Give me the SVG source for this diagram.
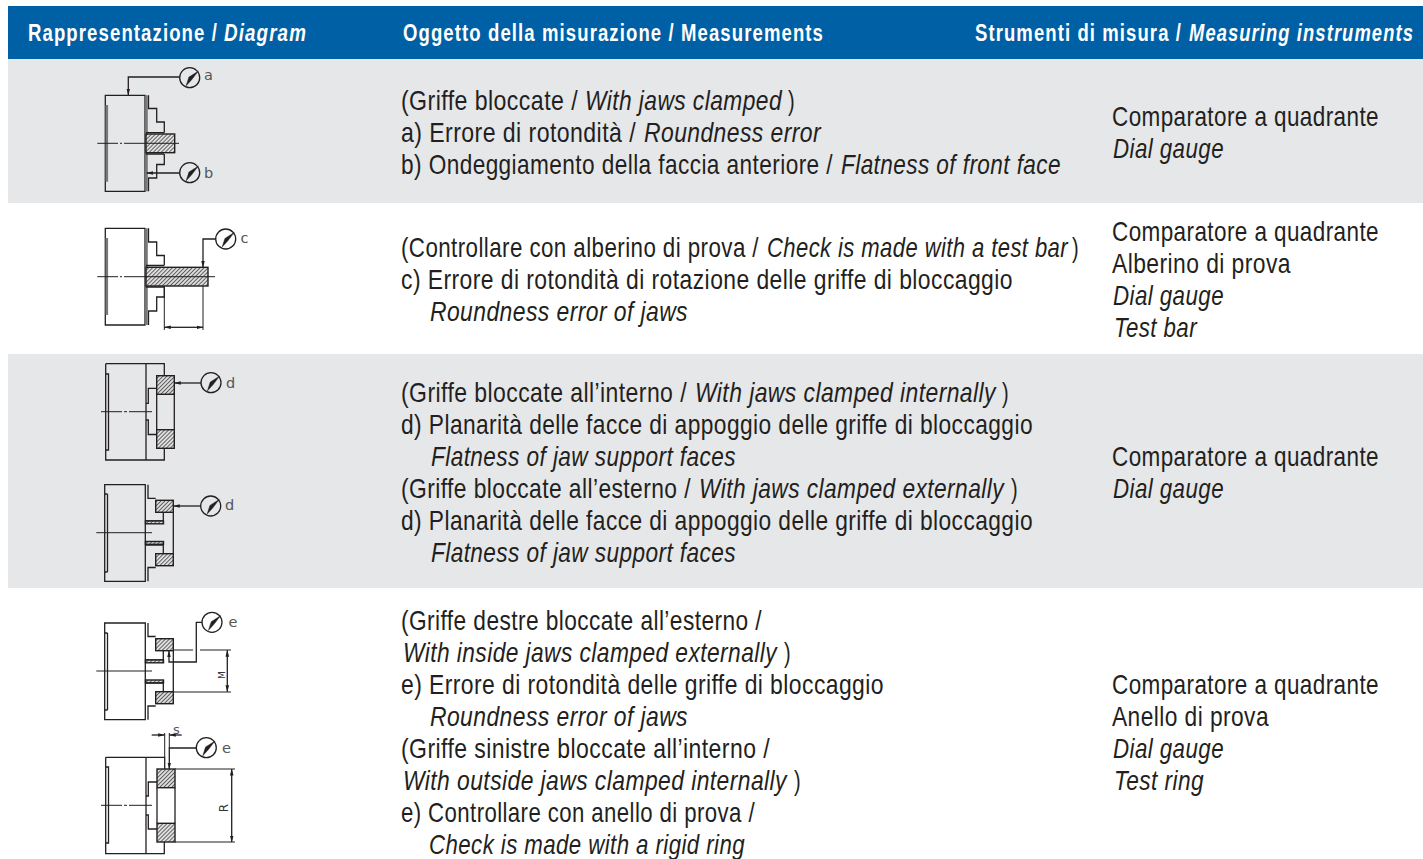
<svg xmlns="http://www.w3.org/2000/svg" width="1423" height="859" viewBox="0 0 1423 859">
<style>
.h{font:bold 18.5px "Liberation Sans",Arial,sans-serif;fill:#fff;letter-spacing:1.1px}
.t{font:21.6px "Liberation Sans",Arial,sans-serif;fill:#231f20;letter-spacing:.4px}
.i{font-style:italic}
.d{fill:none;stroke:#231f20;stroke-width:1.3}
.g{fill:none;stroke:#77797c;stroke-width:2.6}
.c{fill:none;stroke:#231f20;stroke-width:1}
.x{fill:url(#hatch);stroke:#231f20;stroke-width:1.4}
.l{font:14.5px "DejaVu Sans",sans-serif;fill:#555}
.m{font:10px "DejaVu Sans",sans-serif;fill:#333}
</style>
<defs>
<pattern id="hatch" width="2.8" height="2.8" patternUnits="userSpaceOnUse" patternTransform="rotate(45)"><rect width="2.8" height="2.8" fill="#dedede"/><line x1="0" y1="0" x2="0" y2="2.8" stroke="#222" stroke-width="1.3"/></pattern>
<marker id="a" markerWidth="7" markerHeight="5" refX="6.5" refY="2.5" orient="auto" markerUnits="userSpaceOnUse"><path d="M0 0.7L7 2.5L0 4.3Z" fill="#231f20"/></marker>
<g id="dial"><circle r="10" fill="none" stroke="#231f20" stroke-width="1.3"/><path d="M-3.7 8.3L2.2 1.8L8.7 -6.7L-.8 -.6Z" fill="#231f20" stroke="#231f20" stroke-width=".4"/></g>
</defs>
<rect id="band1" x="8" y="59" width="1415" height="144" fill="#e6e7e9"/>
<rect id="band3" x="8" y="354" width="1415" height="234" fill="#e6e7e9"/>
<rect id="header" x="8" y="6" width="1415" height="53" fill="#0060a5"/>
<g id="headers" transform="scale(1 1.3)">
<text class="h" x="28" y="31.54" textLength="190" lengthAdjust="spacingAndGlyphs">Rappresentazione /</text>
<text class="h i" x="224" y="31.54" textLength="83" lengthAdjust="spacingAndGlyphs">Diagram</text>
<text class="h" x="403" y="31.54" textLength="421" lengthAdjust="spacingAndGlyphs">Oggetto della misurazione / Measurements</text>
<text class="h" x="975" y="31.54" textLength="207" lengthAdjust="spacingAndGlyphs">Strumenti di misura /</text>
<text class="h i" x="1189" y="31.54" textLength="225" lengthAdjust="spacingAndGlyphs">Measuring instruments</text>
</g>
<g id="diagram-a">
<path class="d" d="M105.3 95.3H145V191.3H105.3ZM148.5 95.3V108.5H156.7V122H164.3V132.7M148.5 191.3V178H156.7V164.5H164.3V154"/>
<path class="g" d="M146.5 95.3V191.3M106.8 105V181.7"/>
<rect class="x" x="146" y="134" width="28.7" height="18.7"/>
<path class="d" d="M146 132.7H164M146 154H164"/>
<path class="c" d="M97.3 143.3H118M120 143.3H122M124 143.3H179"/>
<path class="d" d="M179.7 77H128.3V95" marker-end="url(#a)"/>
<path class="d" d="M179.7 173H146.7" marker-end="url(#a)"/>
<use href="#dial" x="189.7" y="77.7"/><use href="#dial" x="189.7" y="172.7"/>
<text class="l" x="204" y="80">a</text><text class="l" x="204" y="178">b</text>
</g>
<g id="diagram-c">
<path class="d" d="M105.3 228.3H145V325H105.3ZM148.5 228.3V242H156.7V255.5H164.3V265.5M148.5 325V311H156.7V297H164.3V287"/>
<path class="g" d="M146.5 228.3V325M106.8 238V315"/>
<rect class="x" x="146" y="267.3" width="62" height="18.7"/>
<path class="d" d="M146 265.5H164M146 287H164"/>
<path class="c" d="M97.3 276.7H118M120 276.7H122M124 276.7H215"/>
<path class="d" d="M215.7 239H203V267.3" marker-end="url(#a)"/>
<path class="c" d="M164.3 286V330M203 286V330"/>
<path class="d" d="M184 327.3H164.3" marker-end="url(#a)"/><path class="d" d="M184 327.3H203" marker-end="url(#a)"/>
<use href="#dial" x="225.7" y="239"/>
<text class="l" x="240.5" y="243">c</text>
</g>
<g id="diagram-d1">
<path class="d" d="M105.7 363.7H164.3V375.7M105.7 363.7V460H164.3V448.3M146 363.7V460M105.7 374H108.5V450H105.7"/>
<path class="d" d="M146 403.3H148.3V388.3H156.7M146 420H148.3V434.5H156.7M156.7 394.3V429.7M174.3 394.3V429.7"/>
<rect class="x" x="156.7" y="375.7" width="17.6" height="18.6"/>
<rect class="x" x="156.7" y="429.7" width="17.6" height="18.6"/>
<path class="c" d="M101 411.7H122M124 411.7H127M129 411.7H152"/>
<path class="d" d="M201 383H174.3" marker-end="url(#a)"/>
<use href="#dial" x="211" y="382.7"/>
<text class="l" x="226" y="388">d</text>
</g>
<g id="diagram-d2">
<path class="d" d="M104.7 484.7H145.3V581.3H104.7ZM107.5 494V572M104.7 494H107.5M104.7 572H107.5M148 484.7V498.3H155.7M148 581.3V567.5H155.7M173.3 512.3V553.7M145.3 521H163.3V512.3M145.3 545H163.3V553.7"/>
<rect class="x" x="155.7" y="500.3" width="17.6" height="12"/>
<rect class="x" x="155.7" y="553.7" width="17.6" height="12"/>
<rect class="x" x="145.5" y="521" width="18" height="2.8"/>
<rect class="x" x="145.5" y="541.5" width="18" height="2.8"/>
<path class="c" d="M96.3 532.7H152"/>
<path class="d" d="M200.7 506H173.3" marker-end="url(#a)"/>
<use href="#dial" x="210.7" y="506"/>
<text class="l" x="225" y="509.5">d</text>
</g>
<g id="diagram-e1">
<path class="d" d="M104.7 623H145.3V719.7H104.7ZM107.5 633V710M104.7 633H107.5M104.7 710H107.5M148 623V636.5H155.7M148 719.7V706H155.7M173.3 650.7V691.7M145.3 660H163.3V650.7M145.3 683H163.3V691.7"/>
<rect class="x" x="155.7" y="638.7" width="17.6" height="12"/>
<rect class="x" x="155.7" y="691.7" width="17.6" height="12"/>
<rect class="x" x="145.5" y="660" width="18" height="2.8"/>
<rect class="x" x="145.5" y="680" width="18" height="2.8"/>
<path class="c" d="M96.3 671H152"/>
<path class="d" d="M202 622.3H196.3V662H169V650.7" marker-end="url(#a)"/>
<path class="c" d="M173.3 650H193M200 650H231M173.3 692H231"/>
<path class="d" d="M227.3 671V650.3" marker-end="url(#a)"/><path class="d" d="M227.3 671V691.7" marker-end="url(#a)"/>
<use href="#dial" x="212" y="622.3"/>
<text class="l" x="228.5" y="626.5">e</text>
<text class="m" transform="translate(224.5 675) rotate(-90)" text-anchor="middle" style="font-size:9px">M</text>
</g>
<g id="diagram-e2">
<path class="d" d="M105.7 757.3H164.7V769M105.7 757.3V853.7H164.3V842M146 757.3V853.7M105.7 767H108.5V843H105.7"/>
<path class="d" d="M146 796H148.3V782H157M146 815H148.3V829H157M157 787.7V823.3M175 787.7V823.3"/>
<rect class="x" x="157" y="769" width="18" height="18.7"/>
<rect class="x" x="157" y="823.3" width="18" height="18.7"/>
<path class="c" d="M101 805.3H122M124 805.3H127M129 805.3H152"/>
<path class="d" d="M196.3 748H169.3V769" marker-end="url(#a)"/>
<path class="c" d="M164.7 757.3V733M169.3 748V733M175 769H235M175 842H235"/>
<path class="d" d="M151.7 735H164.7" marker-end="url(#a)"/><path class="d" d="M181.7 735H169.3" marker-end="url(#a)"/>
<path class="d" d="M231.7 805V769" marker-end="url(#a)"/><path class="d" d="M231.7 805V842" marker-end="url(#a)"/>
<use href="#dial" x="206.3" y="747.7"/>
<text class="l" x="222" y="753">e</text>
<text class="l" x="173" y="734" style="font-size:13px">s</text>
<text class="m" transform="translate(228 808) rotate(-90)" text-anchor="middle" style="font-size:12px">R</text>
</g>
<g id="measurements" transform="scale(1 1.25)">
<text class="t" x="401" y="88" textLength="177" lengthAdjust="spacingAndGlyphs">(Griffe bloccate /</text>
<text class="t i" x="585" y="88" textLength="197" lengthAdjust="spacingAndGlyphs">With jaws clamped</text>
<text class="t" x="788" y="88" textLength="7" lengthAdjust="spacingAndGlyphs">)</text>
<text class="t" x="401" y="113.6" textLength="235" lengthAdjust="spacingAndGlyphs">a) Errore di rotondità /</text>
<text class="t i" x="644" y="113.6" textLength="177" lengthAdjust="spacingAndGlyphs">Roundness error</text>
<text class="t" x="401" y="139.2" textLength="432" lengthAdjust="spacingAndGlyphs">b) Ondeggiamento della faccia anteriore /</text>
<text class="t i" x="841" y="139.2" textLength="220" lengthAdjust="spacingAndGlyphs">Flatness of front face</text>
<text class="t" x="401" y="205.6" textLength="358" lengthAdjust="spacingAndGlyphs">(Controllare con alberino di prova /</text>
<text class="t i" x="767" y="205.6" textLength="301" lengthAdjust="spacingAndGlyphs">Check is made with a test bar</text>
<text class="t" x="1072" y="205.6" textLength="7" lengthAdjust="spacingAndGlyphs">)</text>
<text class="t" x="401" y="231.2" textLength="612" lengthAdjust="spacingAndGlyphs">c) Errore di rotondità di rotazione delle griffe di bloccaggio</text>
<text class="t i" x="430" y="256.8" textLength="258" lengthAdjust="spacingAndGlyphs">Roundness error of jaws</text>
<text class="t" x="401" y="321.6" textLength="286" lengthAdjust="spacingAndGlyphs">(Griffe bloccate all’interno /</text>
<text class="t i" x="695" y="321.6" textLength="301" lengthAdjust="spacingAndGlyphs">With jaws clamped internally</text>
<text class="t" x="1002" y="321.6" textLength="7" lengthAdjust="spacingAndGlyphs">)</text>
<text class="t" x="401" y="347.2" textLength="632" lengthAdjust="spacingAndGlyphs">d) Planarità delle facce di appoggio delle griffe di bloccaggio</text>
<text class="t i" x="431" y="372.8" textLength="305" lengthAdjust="spacingAndGlyphs">Flatness of jaw support faces</text>
<text class="t" x="401" y="398.4" textLength="290" lengthAdjust="spacingAndGlyphs">(Griffe bloccate all’esterno /</text>
<text class="t i" x="699" y="398.4" textLength="305" lengthAdjust="spacingAndGlyphs">With jaws clamped externally</text>
<text class="t" x="1011" y="398.4" textLength="7" lengthAdjust="spacingAndGlyphs">)</text>
<text class="t" x="401" y="424" textLength="632" lengthAdjust="spacingAndGlyphs">d) Planarità delle facce di appoggio delle griffe di bloccaggio</text>
<text class="t i" x="431" y="449.6" textLength="305" lengthAdjust="spacingAndGlyphs">Flatness of jaw support faces</text>
<text class="t" x="401" y="504" textLength="361" lengthAdjust="spacingAndGlyphs">(Griffe destre bloccate all’esterno /</text>
<text class="t i" x="403" y="529.6" textLength="374" lengthAdjust="spacingAndGlyphs">With inside jaws clamped externally</text>
<text class="t" x="784" y="529.6" textLength="7" lengthAdjust="spacingAndGlyphs">)</text>
<text class="t" x="401" y="555.2" textLength="483" lengthAdjust="spacingAndGlyphs">e) Errore di rotondità delle griffe di bloccaggio</text>
<text class="t i" x="430" y="580.8" textLength="258" lengthAdjust="spacingAndGlyphs">Roundness error of jaws</text>
<text class="t" x="401" y="606.4" textLength="369" lengthAdjust="spacingAndGlyphs">(Griffe sinistre bloccate all’interno /</text>
<text class="t i" x="403" y="632" textLength="384" lengthAdjust="spacingAndGlyphs">With outside jaws clamped internally</text>
<text class="t" x="794" y="632" textLength="7" lengthAdjust="spacingAndGlyphs">)</text>
<text class="t" x="401" y="657.6" textLength="354" lengthAdjust="spacingAndGlyphs">e) Controllare con anello di prova /</text>
<text class="t i" x="429" y="683.2" textLength="316" lengthAdjust="spacingAndGlyphs">Check is made with a rigid ring</text>
</g>
<g id="instruments" transform="scale(1 1.25)">
<text class="t" x="1112" y="100.8" textLength="267" lengthAdjust="spacingAndGlyphs">Comparatore a quadrante</text>
<text class="t i" x="1113" y="126.4" textLength="111" lengthAdjust="spacingAndGlyphs">Dial gauge</text>
<text class="t" x="1112" y="192.8" textLength="267" lengthAdjust="spacingAndGlyphs">Comparatore a quadrante</text>
<text class="t" x="1112" y="218.4" textLength="179" lengthAdjust="spacingAndGlyphs">Alberino di prova</text>
<text class="t i" x="1113" y="244" textLength="111" lengthAdjust="spacingAndGlyphs">Dial gauge</text>
<text class="t i" x="1114" y="269.6" textLength="83" lengthAdjust="spacingAndGlyphs">Test bar</text>
<text class="t" x="1112" y="372.8" textLength="267" lengthAdjust="spacingAndGlyphs">Comparatore a quadrante</text>
<text class="t i" x="1113" y="398.4" textLength="111" lengthAdjust="spacingAndGlyphs">Dial gauge</text>
<text class="t" x="1112" y="555.2" textLength="267" lengthAdjust="spacingAndGlyphs">Comparatore a quadrante</text>
<text class="t" x="1112" y="580.8" textLength="157" lengthAdjust="spacingAndGlyphs">Anello di prova</text>
<text class="t i" x="1113" y="606.4" textLength="111" lengthAdjust="spacingAndGlyphs">Dial gauge</text>
<text class="t i" x="1114" y="632" textLength="90" lengthAdjust="spacingAndGlyphs">Test ring</text>
</g>
</svg>
